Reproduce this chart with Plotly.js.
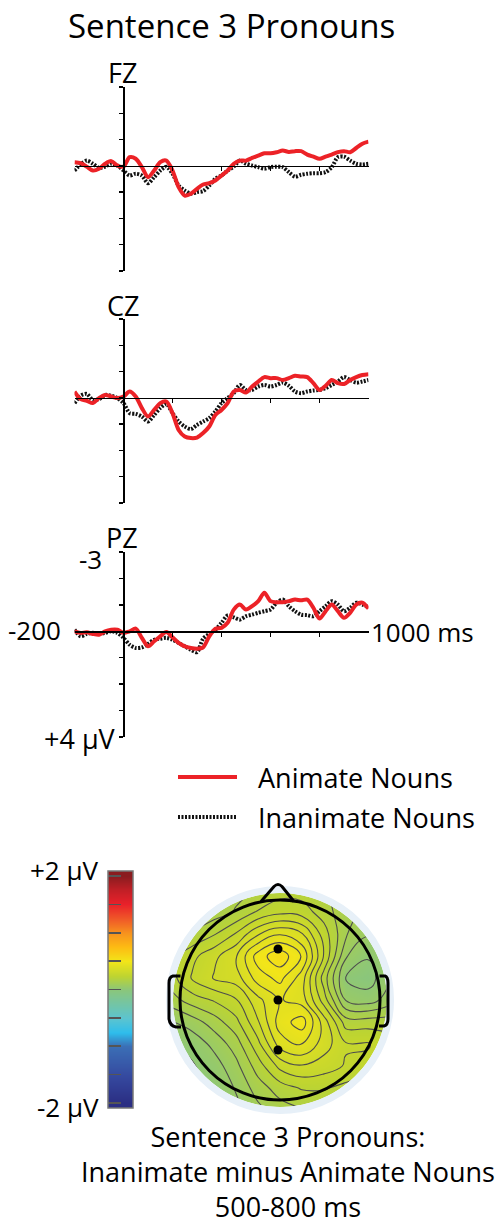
<!DOCTYPE html>
<html><head><meta charset="utf-8">
<script src="https://cdn.plot.ly/plotly-3.0.1.min.js"></script>
<style>html,body{margin:0;padding:0;background:#fff}#chart{width:504px;height:1224px}</style>
</head><body><div id="chart"></div>
<script>
// ---------- DATA ----------
const times = [-200,-175,-150,-125,-100,-75,-50,-25,0,25,50,75,100,125,150,175,200,225,250,275,300,325,350,375,400,425,450,475,500,525,550,575,600,625,650,675,700,725,750,775,800,825,850,875,900,925,950,975,1000];

const fzAnimate = [-0.14,-0.10,0.03,0.18,0.11,-0.08,-0.18,-0.01,0.03,-0.33,-0.27,0.05,0.43,0.18,-0.14,-0.20,0.18,0.81,1.13,1.06,0.87,0.71,0.66,0.56,0.37,0.18,-0.08,-0.20,-0.20,-0.30,-0.39,-0.48,-0.48,-0.52,-0.58,-0.53,-0.56,-0.56,-0.43,-0.35,-0.27,-0.35,-0.43,-0.52,-0.56,-0.52,-0.68,-0.84,-0.92];
const fzInanimate = [0.18,-0.05,-0.20,-0.08,0.08,0.03,-0.08,-0.01,0.18,0.37,0.30,0.37,0.66,0.43,0.18,0.03,0.30,0.75,0.94,1.06,1.00,0.96,0.75,0.49,0.37,0.18,0.03,-0.20,-0.08,-0.01,0.05,0.11,0.05,0.03,0.05,0.24,0.41,0.34,0.30,0.28,0.28,0.24,0.05,-0.33,-0.35,-0.20,-0.08,-0.05,-0.08];

const czAnimate = [-0.24,0.05,0.11,0.20,0.01,-0.11,-0.05,0.01,-0.05,-0.24,-0.05,0.39,0.71,0.46,0.20,0.14,0.58,1.22,1.47,1.53,1.51,1.34,1.09,0.65,0.46,0.20,-0.24,-0.30,-0.20,-0.43,-0.62,-0.79,-0.75,-0.75,-0.68,-0.75,-0.84,-0.81,-0.79,-0.56,-0.30,-0.46,-0.68,-0.56,-0.53,-0.68,-0.79,-0.87,-0.90];
const czInanimate = [0.20,-0.08,-0.15,0.08,0.05,-0.11,-0.08,0.01,0.20,0.58,0.61,0.71,0.90,0.65,0.39,0.23,0.58,0.90,1.09,1.19,1.03,0.90,0.77,0.52,0.20,0.01,-0.18,-0.49,-0.30,-0.30,-0.43,-0.49,-0.43,-0.49,-0.58,-0.46,-0.24,-0.18,-0.24,-0.28,-0.30,-0.37,-0.49,-0.62,-0.79,-0.68,-0.58,-0.62,-0.68];

const pzAnimate = [0.00,0.06,0.04,0.10,0.13,0.00,-0.06,-0.06,0.06,0.00,-0.10,0.25,0.57,0.38,0.19,0.03,0.23,0.44,0.57,0.63,0.66,0.61,0.19,-0.10,-0.13,-0.32,-0.82,-1.01,-0.82,-0.95,-1.14,-1.46,-1.14,-1.10,-1.10,-1.14,-1.20,-1.17,-1.20,-0.89,-0.48,-0.76,-1.01,-0.76,-0.51,-0.70,-1.01,-1.08,-0.86];
const pzInanimate = [-0.06,0.19,0.10,0.06,0.10,0.06,0.00,0.06,0.25,0.51,0.63,0.61,0.48,0.32,0.28,0.25,0.32,0.44,0.57,0.70,0.79,0.28,0.10,-0.06,-0.32,-0.60,-0.53,-0.44,-0.57,-0.63,-0.70,-0.76,-0.82,-1.08,-1.20,-0.95,-0.76,-0.63,-0.61,-0.57,-0.76,-0.95,-1.14,-1.01,-0.76,-0.89,-1.08,-1.01,-0.91];

const electrodeNames = ['FZ','CZ','PZ'];
const seriesNames = ['Animate Nouns','Inanimate Nouns'];
const xTickVals = [200,400,600,800];
const yTickVals = [-3,-2,-1,0,1,2,3,4];

// topographic map (Inanimate minus Animate, 500-800 ms), head units, rows bottom -> top
const topoU = [-1.1,-0.88,-0.66,-0.44,-0.22,0,0.22,0.44,0.66,0.88,1.1];
const topoV = [-1.1,-0.88,-0.66,-0.44,-0.22,0,0.22,0.44,0.66,0.88,1.1];
const topoZ = [
  [0.00,0.00,0.02,0.06,0.11,0.15,0.17,0.18,0.17,0.15,0.15],
  [0.00,0.01,0.03,0.08,0.15,0.20,0.23,0.23,0.21,0.18,0.18],
  [0.00,0.02,0.05,0.11,0.20,0.29,0.32,0.30,0.27,0.26,0.22],
  [0.02,0.04,0.09,0.15,0.26,0.40,0.43,0.35,0.28,0.28,0.25],
  [0.07,0.10,0.15,0.21,0.32,0.45,0.50,0.35,0.20,0.20,0.20],
  [0.15,0.20,0.23,0.27,0.36,0.43,0.40,0.25,0.07,0.05,0.10],
  [0.20,0.28,0.33,0.35,0.45,0.49,0.40,0.20,0.02,0.00,0.07],
  [0.20,0.26,0.31,0.37,0.50,0.56,0.47,0.27,0.08,0.03,0.07],
  [0.15,0.18,0.22,0.28,0.37,0.42,0.38,0.25,0.13,0.08,0.08],
  [0.12,0.13,0.15,0.18,0.23,0.26,0.25,0.20,0.14,0.11,0.10],
  [0.15,0.15,0.15,0.16,0.18,0.20,0.20,0.18,0.15,0.12,0.10]
];
const electrodeU = [-0.02,-0.02,-0.02];
const electrodeV = [0.51,0.0,-0.50];
const colorbarTicks = [-2,-1.5,-1,-0.5,0,0.5,1,1.5,2];

// ---------- STYLE / LAYOUT ----------
const W = 504, H = 1224;
const px = x => x / W, py = y => 1 - y / H;
const FONT = 'Open Sans, sans-serif';
const RED = '#ec2227';
const DOT = '2px,1.5px';

const cscale = [
  [0.000,'#2b2e83'],[0.120,'#35499f'],[0.250,'#3b6fb6'],[0.310,'#2ebdec'],
  [0.375,'#5cc4cf'],[0.500,'#8ac67c'],[0.560,'#bdd431'],[0.625,'#f2e519'],
  [0.690,'#fdba13'],[0.750,'#f7931e'],[0.810,'#f05a28'],[0.875,'#e9212a'],
  [0.940,'#c01f26'],[1.000,'#8a1c1f']
];

const panels = [
  {top:87,  bottom:271, a:fzAnimate, i:fzInanimate, lx:122,   ly:72},
  {top:319, bottom:503, a:czAnimate, i:czInanimate, lx:122.5, ly:305},
  {top:552, bottom:737, a:pzAnimate, i:pzInanimate, lx:121.5, ly:537}
];

const data = [];
const layout = {
  width: W, height: H, autosize: false,
  margin: {l:0, r:0, t:0, b:0},
  paper_bgcolor: '#fff', plot_bgcolor: 'rgba(0,0,0,0)',
  showlegend: false,
  font: {family: FONT, color: '#000'},
  annotations: [], shapes: []
};

function ann(text, x, y, size, xanchor, extra) {
  layout.annotations.push(Object.assign({text, x: px(x), y: py(y), xref:'paper', yref:'paper',
    xanchor: xanchor || 'center', yanchor:'middle', showarrow:false,
    font:{family:FONT, size, color:'#000'}}, extra || {}));
}

panels.forEach((p, k) => {
  const n = k + 1, sfx = n === 1 ? '' : String(n);
  const d0 = py(p.bottom), d1 = py(p.top);
  const zeroPos = d0 + (d1 - d0) * 4 / 7;
  layout['xaxis' + sfx] = {
    domain:[px(74.5), px(368.5)], range:[-200,1000], anchor:'free', position: zeroPos,
    showline:true, linecolor:'#000', linewidth:1.5, ticks:'outside', tickvals:xTickVals,
    ticklen:4, tickwidth:1.2, tickcolor:'#000', showticklabels:false, showgrid:false,
    zeroline:false, fixedrange:true
  };
  layout['yaxis' + sfx] = {
    domain:[d0, d1], range:[4,-3], anchor:'free', position: px(123.5),
    showline:true, linecolor:'#000', linewidth:2, ticks:'outside', tickvals:yTickVals,
    ticklen:4, tickwidth:1.5, tickcolor:'#000', showticklabels:false, showgrid:false,
    zeroline:false, fixedrange:true
  };
  data.push({type:'scatter', mode:'lines', x:times, y:p.i, name:seriesNames[1],
    xaxis:'x'+sfx, yaxis:'y'+sfx,
    line:{color:'#111', width:4, dash:DOT, shape:'spline', smoothing:0.8}});
  data.push({type:'scatter', mode:'lines', x:times, y:p.a, name:seriesNames[0],
    xaxis:'x'+sfx, yaxis:'y'+sfx,
    line:{color:RED, width:4, shape:'spline', smoothing:0.8}});
  ann(electrodeNames[k], p.lx, p.ly, 27);
});

// PZ axis labels
ann('-3', 104, 559, 26, 'right');
ann('-200', 63, 630, 26, 'right');
ann('1000 ms', 369, 632, 26, 'left');
ann('+4 µV', 118, 738, 27, 'right');

// Title
ann('Sentence 3 Pronouns', 231, 25, 33);

// Legend
layout.shapes.push({type:'line', xref:'paper', yref:'paper', x0:px(178), x1:px(237), y0:py(777), y1:py(777), line:{color:RED, width:4}});
layout.shapes.push({type:'line', xref:'paper', yref:'paper', x0:px(178), x1:px(237), y0:py(817), y1:py(817), line:{color:'#111', width:4, dash:DOT}});
ann(seriesNames[0], 256, 777, 27, 'left');
ann(seriesNames[1], 256, 817, 27, 'left');

// ---------- TOPOGRAPHIC MAP ----------
layout.xaxis4 = {domain:[px(160), px(400)], range:[-1.2,1.2], visible:false, fixedrange:true, anchor:'y4'};
layout.yaxis4 = {domain:[py(1120), py(880)], range:[-1.2,1.2], visible:false, fixedrange:true, anchor:'x4'};
data.push({type:'contour', x:topoU, y:topoV, z:topoZ, xaxis:'x4', yaxis:'y4',
  zmin:-2, zmax:2, colorscale:cscale, showscale:false, hoverinfo:'skip',
  contours:{start:0.025, end:0.6, size:0.05, coloring:'heatmap', showlines:true},
  line:{color:'#4d4d4d', width:1.1, smoothing:1.2}});
data.push({type:'scatter', mode:'markers', x:electrodeU, y:electrodeV, xaxis:'x4', yaxis:'y4',
  marker:{color:'#000', size:9}, hoverinfo:'skip'});

function ring(r, n, rev) {
  let s = '';
  for (let j = 0; j <= n; j++) {
    const t = (rev ? -1 : 1) * 2 * Math.PI * j / n;
    s += (j === 0 ? 'M' : 'L') + (r * Math.cos(t)).toFixed(4) + ',' + (r * Math.sin(t)).toFixed(4);
  }
  return s + 'Z';
}
layout.shapes.push({type:'path', xref:'x4', yref:'y4', fillrule:'evenodd',
  path:'M-1.2,-1.2L1.2,-1.2L1.2,1.2L-1.2,1.2Z' + ring(1.07, 180, true),
  fillcolor:'#fff', line:{width:0}});
layout.shapes.push({type:'circle', xref:'x4', yref:'y4', x0:-1.105, x1:1.105, y0:-1.105, y1:1.105,
  line:{color:'#e7f0f8', width:7}});
layout.shapes.push({type:'circle', xref:'x4', yref:'y4', x0:-1, x1:1, y0:-1, y1:1,
  line:{color:'#000', width:3}});
layout.shapes.push({type:'path', xref:'x4', yref:'y4',
  path:'M-0.19,0.985L-0.06,1.135Q-0.02,1.175 0.02,1.135L0.14,0.985',
  line:{color:'#000', width:3}});
layout.shapes.push({type:'path', xref:'x4', yref:'y4',
  path:'M-0.995,0.24L-1.07,0.24Q-1.11,0.23 -1.11,0.17L-1.11,-0.19Q-1.10,-0.26 -1.04,-0.27L-0.99,-0.27',
  line:{color:'#000', width:3}});
layout.shapes.push({type:'path', xref:'x4', yref:'y4',
  path:'M0.995,0.24L1.05,0.24Q1.08,0.23 1.08,0.17L1.08,-0.19Q1.08,-0.25 1.04,-0.26L0.99,-0.26',
  line:{color:'#000', width:3}});

// ---------- COLOR BAR ----------
layout.xaxis5 = {domain:[px(108), px(133)], range:[-0.5,1.5], visible:false, fixedrange:true, anchor:'y5'};
layout.yaxis5 = {domain:[py(1108), py(871)], range:[-2.09,2.09], anchor:'x5', side:'left',
  ticks:'inside', ticklen:13, tickwidth:1.5, tickcolor:'#555', tickvals:colorbarTicks,
  showticklabels:false, showline:false, showgrid:false, zeroline:false, fixedrange:true};
data.push({type:'heatmap', x:[0,1], y:colorbarTicks, z:colorbarTicks.map(v => [v, v]),
  xaxis:'x5', yaxis:'y5', zmin:-2, zmax:2, colorscale:cscale, zsmooth:'best',
  showscale:false, hoverinfo:'skip'});
layout.shapes.push({type:'rect', xref:'paper', yref:'paper', x0:px(108), x1:px(133), y0:py(1108), y1:py(871),
  line:{color:'#777', width:1.5}});
ann('+2 µV', 101, 870, 26, 'right');
ann('-2 µV', 101, 1107, 26, 'right');

// Bottom caption (one multi-line text block)
ann('Sentence 3 Pronouns:<br>Inanimate minus Animate Nouns<br>500-800 ms', 288, 1171, 27, 'center', {align:'center'});

Plotly.newPlot('chart', data, layout, {displayModeBar:false, staticPlot:true});
</script></body></html>
